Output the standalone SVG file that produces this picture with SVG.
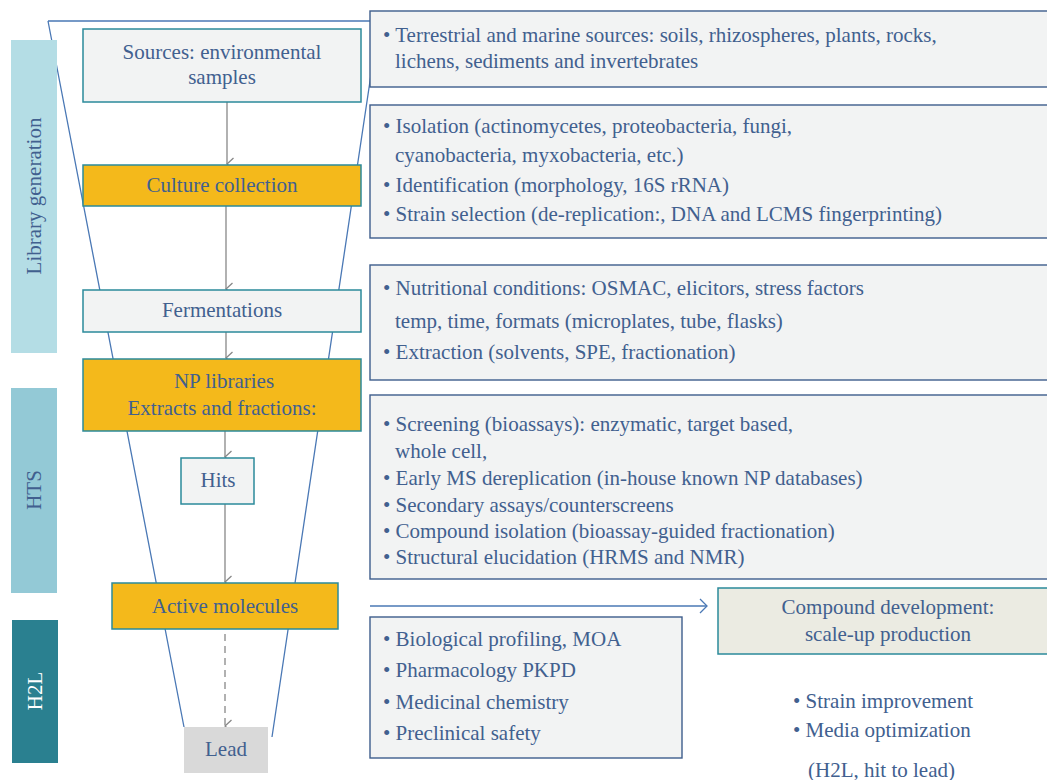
<svg xmlns="http://www.w3.org/2000/svg" width="1047" height="780" viewBox="0 0 1047 780">
<style>
text{font-family:"Liberation Serif","Times New Roman",serif;font-size:21px;fill:#41608f}
.c{text-anchor:middle}
.node{fill:#f2f3f3;stroke:#2b8a9b;stroke-width:1.5}
.yel{fill:#f4b91b;stroke:#2b8a9b;stroke-width:1.5}
.info{fill:#f2f3f3;stroke:#3e5d8c;stroke-width:1.4}
.funnel{fill:none;stroke:#4a78b5;stroke-width:1.3}
.arr{stroke:#888;stroke-width:1.3;fill:none}
</style>
<defs>
<marker id="ah" markerWidth="14" markerHeight="10" refX="7" refY="8" orient="auto" markerUnits="userSpaceOnUse" viewBox="0 0 14 10">
<path d="M1,1.5 L7,8 L13,1.5" fill="none" stroke="#888" stroke-width="1.3"/>
</marker>
<marker id="ahb" markerWidth="10" markerHeight="16" refX="9" refY="8" orient="auto" markerUnits="userSpaceOnUse" viewBox="0 0 10 16">
<path d="M2,1 L9,8 L2,15" fill="none" stroke="#4a78b5" stroke-width="1.3"/>
</marker>
</defs>
<rect width="1047" height="780" fill="#fff"/>
<g id="funnel">
<path class="funnel" d="M48,21 L379,21 M48,21 L184,727 M379,21 L272,737"/>
</g>
<g id="phase-bars">
<rect x="11" y="40" width="46" height="313" fill="#b4dde5"/>
<text transform="translate(41,196) rotate(-90)" class="c">Library generation</text>
<rect x="11" y="388" width="46" height="205" fill="#93c9d6"/>
<text transform="translate(41,490) rotate(-90)" class="c">HTS</text>
<rect x="12" y="620" width="46" height="143" fill="#2a8090"/>
<text transform="translate(42,691) rotate(-90)" class="c" style="fill:#fff">H2L</text>
</g>
<g id="connectors">
<line class="arr" x1="227" y1="102" x2="227" y2="164" marker-end="url(#ah)"/>
<line class="arr" x1="226" y1="206" x2="226" y2="289" marker-end="url(#ah)"/>
<line class="arr" x1="226" y1="332" x2="226" y2="358" marker-end="url(#ah)"/>
<line class="arr" x1="225" y1="431" x2="225" y2="457" marker-end="url(#ah)"/>
<line class="arr" x1="225" y1="504" x2="225" y2="582" marker-end="url(#ah)"/>
<line class="arr" x1="225" y1="634" x2="225" y2="726" stroke-dasharray="7,5" marker-end="url(#ah)"/>
<line x1="370" y1="606" x2="707" y2="606" stroke="#4a78b5" stroke-width="1.3" marker-end="url(#ahb)"/>
</g>
<g id="sources">
<rect class="node" x="83" y="29" width="278" height="73"/>
<text class="c" x="222" y="59">Sources: environmental</text>
<text class="c" x="222" y="84">samples</text>
</g>
<g id="culture">
<rect class="yel" x="83" y="165" width="278" height="41"/>
<text class="c" x="222" y="192">Culture collection</text>
</g>
<g id="fermentations">
<rect class="node" x="83" y="290" width="278" height="42"/>
<text class="c" x="222" y="317">Fermentations</text>
</g>
<g id="np-libraries">
<rect class="yel" x="83" y="359" width="278" height="72"/>
<text class="c" x="224" y="388">NP libraries</text>
<text class="c" x="222" y="415">Extracts and fractions:</text>
</g>
<g id="hits">
<rect class="node" x="181" y="458" width="73" height="46"/>
<text class="c" x="218" y="487">Hits</text>
</g>
<g id="active">
<rect class="yel" x="112" y="583" width="226" height="46"/>
<text class="c" x="225" y="613">Active molecules</text>
</g>
<g id="lead">
<rect x="184" y="727" width="84" height="46" fill="#d9d9d9"/>
<text class="c" x="226" y="756">Lead</text>
</g>
<g id="info-sources">
<rect class="info" x="370" y="11" width="690" height="76"/>
<text x="383" y="42">• Terrestrial and marine sources: soils, rhizospheres, plants, rocks,</text>
<text x="395" y="68">lichens, sediments and invertebrates</text>
</g>
<g id="info-culture">
<rect class="info" x="370" y="105" width="690" height="133"/>
<text x="383" y="133">• Isolation (actinomycetes, proteobacteria, fungi,</text>
<text x="395" y="162">cyanobacteria, myxobacteria, etc.)</text>
<text x="383" y="192">• Identification (morphology, 16S rRNA)</text>
<text x="383" y="221">• Strain selection (de-replication:, DNA and LCMS fingerprinting)</text>
</g>
<g id="info-fermentation">
<rect class="info" x="370" y="265" width="690" height="115"/>
<text x="383" y="295">• Nutritional conditions: OSMAC, elicitors, stress factors</text>
<text x="395" y="328">temp, time, formats (microplates, tube, flasks)</text>
<text x="383" y="359">• Extraction (solvents, SPE, fractionation)</text>
</g>
<g id="info-hts">
<rect class="info" x="370" y="395" width="690" height="184"/>
<text x="383" y="431">• Screening (bioassays): enzymatic, target based,</text>
<text x="395" y="458">whole cell,</text>
<text x="383" y="485">• Early MS dereplication (in-house known NP databases)</text>
<text x="383" y="512">• Secondary assays/counterscreens</text>
<text x="383" y="538">• Compound isolation (bioassay-guided fractionation)</text>
<text x="383" y="564">• Structural elucidation (HRMS and NMR)</text>
</g>
<g id="info-h2l">
<rect class="info" x="370" y="617" width="312" height="141"/>
<text x="383" y="646">• Biological profiling, MOA</text>
<text x="383" y="677">• Pharmacology PKPD</text>
<text x="383" y="709">• Medicinal chemistry</text>
<text x="383" y="740">• Preclinical safety</text>
</g>
<g id="compound-development">
<rect x="718" y="588" width="340" height="66" fill="#ebebe2" stroke="#2b8a9b" stroke-width="1.5"/>
<text class="c" x="888" y="614">Compound development:</text>
<text class="c" x="888" y="641">scale-up production</text>
</g>
<g id="dev-notes">
<text x="793" y="708">• Strain improvement</text>
<text x="793" y="737">• Media optimization</text>
<text x="808" y="777">(H2L, hit to lead)</text>
</g>
</svg>
